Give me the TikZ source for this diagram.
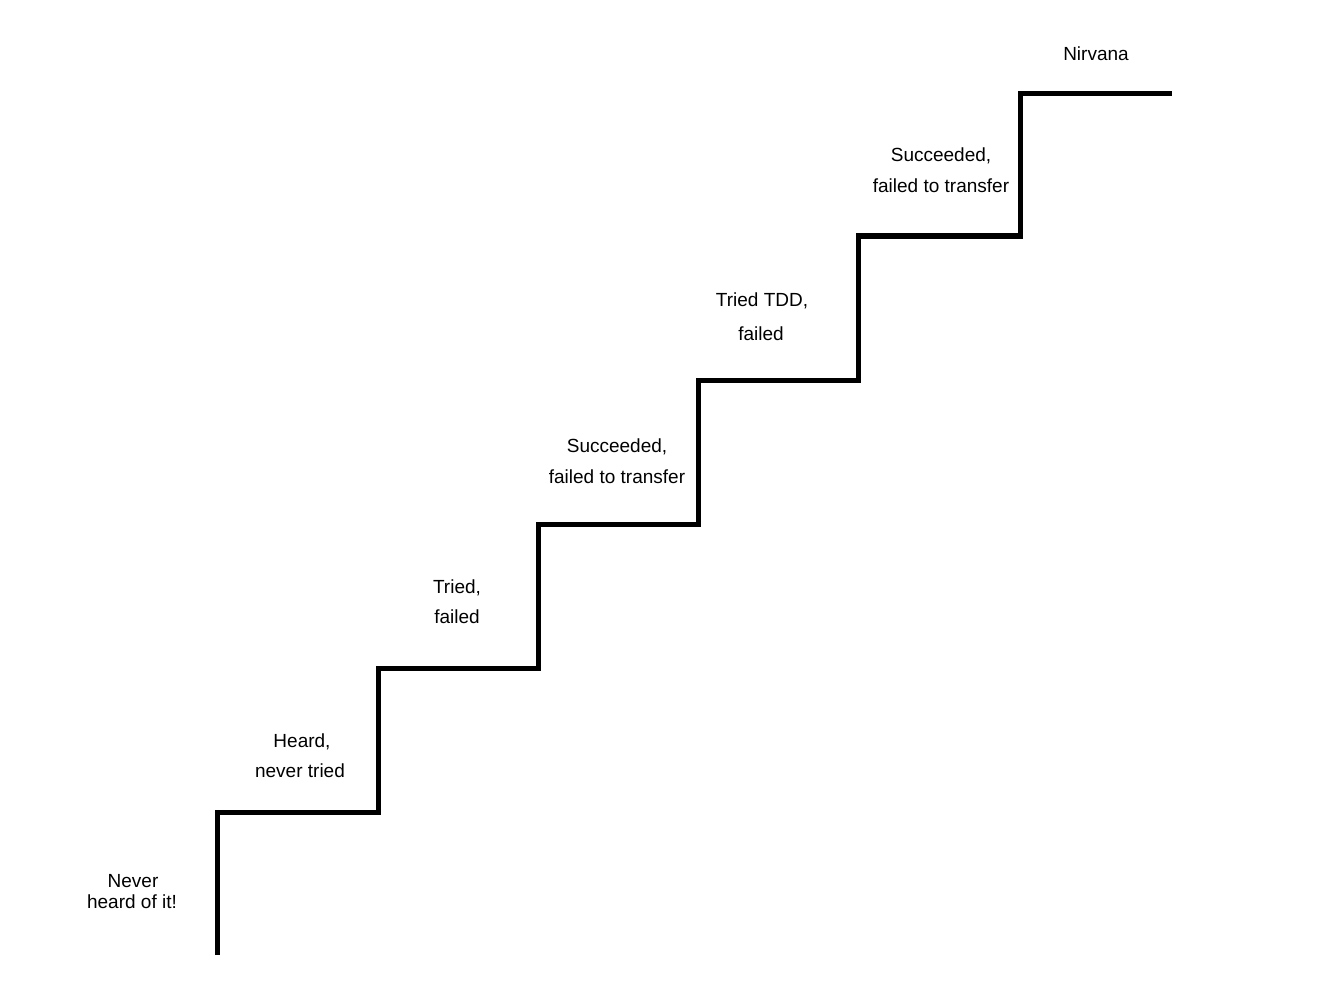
\documentclass[tikz,border=0pt]{standalone}
\usepackage{fontspec}
\setmainfont{Liberation Sans}
\begin{document}
\begin{tikzpicture}[x=1pt,y=-1pt,
  lbl/.style={anchor=base,inner sep=0pt,font=\fontsize{19}{22}\selectfont},
  stair/.style={line width=5pt,line join=miter,line cap=butt}]
\useasboundingbox[fill=white] (0,0) rectangle (1325,987);
\coordinate (s0) at (217,955);
\coordinate (s1) at (217,812);
\coordinate (s2) at (378,812);
\coordinate (s3) at (378,668);
\coordinate (s4) at (538,668);
\coordinate (s5) at (538,524);
\coordinate (s6) at (698,524);
\coordinate (s7) at (698,380);
\coordinate (s8) at (858,380);
\coordinate (s9) at (858,236);
\coordinate (s10) at (1020,236);
\coordinate (s11) at (1020,94);
\coordinate (s12) at (1172,94);
\draw[stair] (s0) -- (s1) -- (s2) -- (s3) -- (s4) -- (s5) -- (s6) -- (s7) -- (s8) -- (s9) -- (s10) -- (s11) -- (s12);
\node[lbl] (n1a) at (133,887) {Never};
\node[lbl] (n1b) at (132,908) {heard of it!};
\node[lbl] (n2a) at (302,747) {Heard,};
\node[lbl] (n2b) at (300,777) {never tried};
\node[lbl] (n3a) at (457,593) {Tried,};
\node[lbl] (n3b) at (457,623) {failed};
\node[lbl] (n4a) at (617,452) {Succeeded,};
\node[lbl] (n4b) at (617,483) {failed to transfer};
\node[lbl] (n5a) at (762,306) {Tried TDD,};
\node[lbl] (n5b) at (761,340) {failed};
\node[lbl] (n6a) at (941,162) {Succeeded,};
\node[lbl] (n6b) at (941,193) {failed to transfer};
\node[lbl] (n7) at (1096,61) {Nirvana};
\end{tikzpicture}
\end{document}
